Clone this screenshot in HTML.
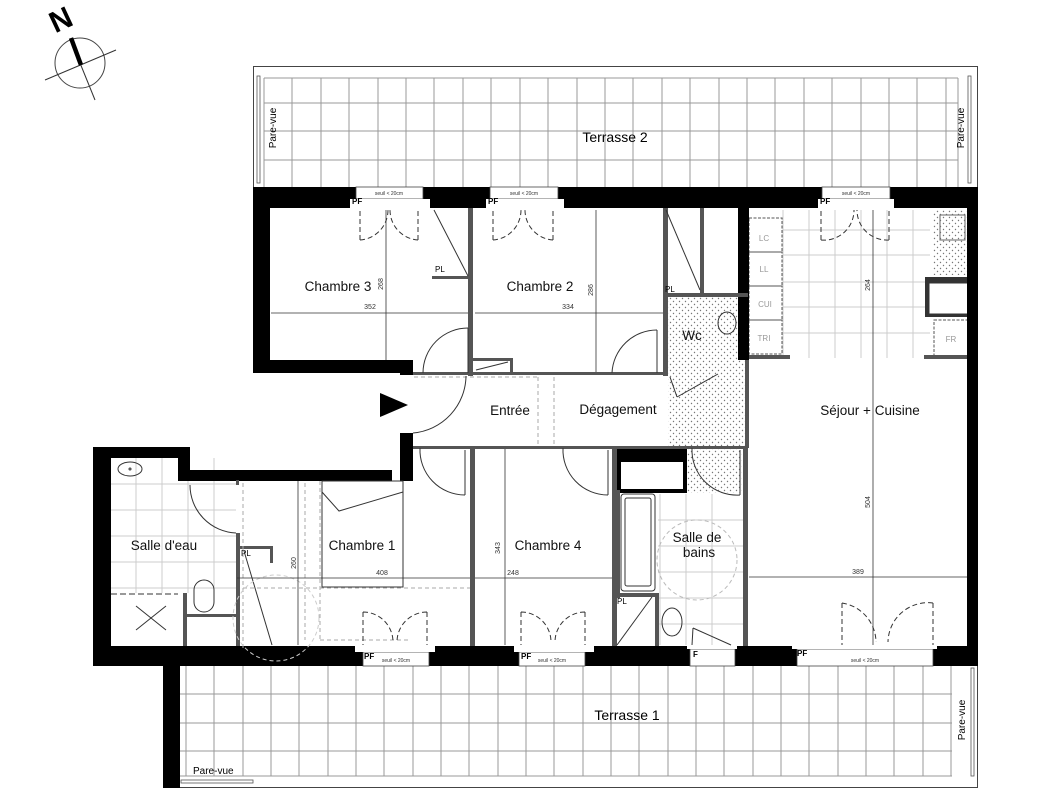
<!DOCTYPE html>
<html><head><meta charset="utf-8"><style>
html,body{margin:0;padding:0;background:#fff;}
svg{display:block;font-family:"Liberation Sans",sans-serif;}
</style></head><body>
<svg width="1052" height="800" viewBox="0 0 1052 800" xmlns="http://www.w3.org/2000/svg">
<defs>
<pattern id="dots" width="6" height="6" patternUnits="userSpaceOnUse"><circle cx="1.5" cy="1.5" r="0.7" fill="#777"/><circle cx="4.5" cy="4.5" r="0.7" fill="#777"/></pattern>
</defs>
<rect width="1052" height="800" fill="#fff"/>

<!-- compass -->
<circle cx="80" cy="63" r="25" fill="none" stroke="#444" stroke-width="1"/>
<line x1="45" y1="80" x2="116" y2="50" stroke="#333" stroke-width="1"/>
<line x1="80" y1="63" x2="95" y2="100" stroke="#333" stroke-width="1"/>
<line x1="71" y1="38" x2="81" y2="65" stroke="#000" stroke-width="4.5"/>
<text x="60" y="30" font-size="30" font-weight="bold" transform="rotate(-25 60 18)" text-anchor="middle">N</text>

<!-- Terrasse 2 -->
<rect x="253.5" y="66.5" width="724" height="122" fill="none" stroke="#444" stroke-width="1"/>
<g stroke="#999" stroke-width="1">
<line x1="264" y1="78" x2="958" y2="78"/><line x1="264" y1="103" x2="958" y2="103"/><line x1="264" y1="131" x2="958" y2="131"/><line x1="264" y1="160" x2="958" y2="160"/>
<line x1="264" y1="78" x2="264" y2="188"/><line x1="292" y1="78" x2="292" y2="188"/><line x1="321" y1="78" x2="321" y2="188"/><line x1="349" y1="78" x2="349" y2="188"/><line x1="378" y1="78" x2="378" y2="188"/><line x1="406" y1="78" x2="406" y2="188"/><line x1="434" y1="78" x2="434" y2="188"/><line x1="463" y1="78" x2="463" y2="188"/><line x1="491" y1="78" x2="491" y2="188"/><line x1="520" y1="78" x2="520" y2="188"/><line x1="548" y1="78" x2="548" y2="188"/><line x1="577" y1="78" x2="577" y2="188"/><line x1="605" y1="78" x2="605" y2="188"/><line x1="633" y1="78" x2="633" y2="188"/><line x1="662" y1="78" x2="662" y2="188"/><line x1="690" y1="78" x2="690" y2="188"/><line x1="719" y1="78" x2="719" y2="188"/><line x1="747" y1="78" x2="747" y2="188"/><line x1="775" y1="78" x2="775" y2="188"/><line x1="804" y1="78" x2="804" y2="188"/><line x1="832" y1="78" x2="832" y2="188"/><line x1="861" y1="78" x2="861" y2="188"/><line x1="889" y1="78" x2="889" y2="188"/><line x1="917" y1="78" x2="917" y2="188"/><line x1="946" y1="78" x2="946" y2="188"/><line x1="958" y1="78" x2="958" y2="188"/>
</g>
<rect x="257" y="76" width="3" height="107" fill="none" stroke="#555" stroke-width="0.8"/>
<rect x="968" y="76" width="3" height="107" fill="none" stroke="#555" stroke-width="0.8"/>
<text x="276" y="128" font-size="10" transform="rotate(-90 276 128)" text-anchor="middle">Pare-vue</text>
<text x="964" y="128" font-size="10" transform="rotate(-90 964 128)" text-anchor="middle">Pare-vue</text>
<text x="615" y="142" font-size="14" text-anchor="middle">Terrasse 2</text>

<!-- Terrasse 1 -->
<rect x="179.5" y="665.5" width="798" height="122" fill="none" stroke="#444" stroke-width="1"/>
<g stroke="#999" stroke-width="1">
<line x1="180" y1="694" x2="952" y2="694"/><line x1="180" y1="723" x2="952" y2="723"/><line x1="180" y1="751" x2="952" y2="751"/><line x1="180" y1="776" x2="952" y2="776"/>
<line x1="186" y1="665" x2="186" y2="776"/><line x1="214" y1="665" x2="214" y2="776"/><line x1="243" y1="665" x2="243" y2="776"/><line x1="271" y1="665" x2="271" y2="776"/><line x1="299" y1="665" x2="299" y2="776"/><line x1="328" y1="665" x2="328" y2="776"/><line x1="356" y1="665" x2="356" y2="776"/><line x1="384" y1="665" x2="384" y2="776"/><line x1="413" y1="665" x2="413" y2="776"/><line x1="441" y1="665" x2="441" y2="776"/><line x1="469" y1="665" x2="469" y2="776"/><line x1="498" y1="665" x2="498" y2="776"/><line x1="526" y1="665" x2="526" y2="776"/><line x1="554" y1="665" x2="554" y2="776"/><line x1="583" y1="665" x2="583" y2="776"/><line x1="611" y1="665" x2="611" y2="776"/><line x1="639" y1="665" x2="639" y2="776"/><line x1="668" y1="665" x2="668" y2="776"/><line x1="696" y1="665" x2="696" y2="776"/><line x1="724" y1="665" x2="724" y2="776"/><line x1="753" y1="665" x2="753" y2="776"/><line x1="781" y1="665" x2="781" y2="776"/><line x1="809" y1="665" x2="809" y2="776"/><line x1="838" y1="665" x2="838" y2="776"/><line x1="866" y1="665" x2="866" y2="776"/><line x1="894" y1="665" x2="894" y2="776"/><line x1="923" y1="665" x2="923" y2="776"/><line x1="951" y1="665" x2="951" y2="776"/>
</g>
<rect x="971" y="668" width="3" height="108" fill="none" stroke="#555" stroke-width="0.8"/>
<rect x="181" y="780" width="72" height="3" fill="none" stroke="#555" stroke-width="0.8"/>
<text x="965" y="720" font-size="10" transform="rotate(-90 965 720)" text-anchor="middle">Pare-vue</text>
<text x="193" y="774" font-size="10">Pare-vue</text>
<text x="627" y="720" font-size="14" text-anchor="middle">Terrasse 1</text>

<!-- dotted floors -->
<rect x="668" y="296" width="78" height="78" fill="url(#dots)"/>
<rect x="668" y="374" width="78" height="74" fill="url(#dots)"/>
<rect x="686" y="448" width="56" height="45" fill="url(#dots)"/>
<rect x="933" y="210" width="34" height="65" fill="url(#dots)"/>

<!-- tiles -->
<g stroke="#ccc" stroke-width="1">
<line x1="783" y1="210" x2="783" y2="358"/><line x1="809" y1="210" x2="809" y2="358"/><line x1="835" y1="210" x2="835" y2="358"/><line x1="861" y1="210" x2="861" y2="358"/><line x1="887" y1="210" x2="887" y2="358"/><line x1="913" y1="210" x2="913" y2="358"/>
<line x1="783" y1="230" x2="930" y2="230"/><line x1="783" y1="255" x2="930" y2="255"/><line x1="783" y1="282" x2="930" y2="282"/><line x1="783" y1="307" x2="930" y2="307"/><line x1="783" y1="333" x2="930" y2="333"/>
<line x1="136" y1="458" x2="136" y2="593"/><line x1="162" y1="458" x2="162" y2="593"/><line x1="188" y1="458" x2="188" y2="593"/><line x1="214" y1="458" x2="214" y2="593"/>
<line x1="111" y1="484" x2="236" y2="484"/><line x1="111" y1="510" x2="236" y2="510"/><line x1="111" y1="536" x2="236" y2="536"/><line x1="111" y1="562" x2="236" y2="562"/><line x1="111" y1="588" x2="236" y2="588"/>
<line x1="660" y1="494" x2="660" y2="645"/><line x1="686" y1="494" x2="686" y2="645"/><line x1="712" y1="494" x2="712" y2="645"/>
<line x1="658" y1="520" x2="743" y2="520"/><line x1="658" y1="546" x2="743" y2="546"/><line x1="658" y1="572" x2="743" y2="572"/><line x1="658" y1="598" x2="743" y2="598"/><line x1="658" y1="624" x2="743" y2="624"/>
</g>

<!-- kitchen units -->
<g stroke="#555" stroke-width="1" stroke-dasharray="3,1.5" fill="none">
<rect x="749" y="218" width="33" height="34"/><rect x="749" y="252" width="33" height="34"/><rect x="749" y="286" width="33" height="34"/><rect x="749" y="320" width="33" height="34"/>
<rect x="934" y="320" width="34" height="36"/>
</g>
<g font-size="8" fill="#999" text-anchor="middle"><text x="764" y="241">LC</text><text x="764" y="272">LL</text><text x="765" y="307">CUI</text><text x="764" y="341">TRI</text><text x="951" y="342">FR</text></g>
<rect x="925" y="277" width="43" height="40" fill="#333"/><rect x="929" y="283" width="39" height="31" fill="#fff" stroke="#333"/>
<rect x="748" y="355" width="42" height="4" fill="#555"/><rect x="924" y="355" width="44" height="4" fill="#555"/>

<!-- BLACK WALLS -->
<g fill="#000">
<rect x="253" y="187" width="724" height="21"/>
<rect x="253" y="187" width="17" height="186"/>
<rect x="253" y="360" width="160" height="13"/>
<rect x="967" y="187" width="11" height="479"/>
<rect x="93" y="646" width="885" height="20"/>
<rect x="163" y="646" width="17" height="142"/>
<rect x="93" y="447" width="18" height="219"/>
<rect x="93" y="447" width="97" height="11"/>
<rect x="178" y="447" width="12" height="33"/>
<rect x="178" y="470" width="214" height="11"/>
<rect x="400" y="433" width="13" height="48"/>
<rect x="400" y="362" width="13" height="13"/>
<rect x="738" y="208" width="11" height="152"/>
<rect x="617" y="448" width="70" height="45"/>
</g>
<rect x="621" y="462" width="62" height="27" fill="#fff"/>
<!-- seuil boxes -->
<g fill="#fff" stroke="#444" stroke-width="0.8">
<rect x="356" y="187" width="67" height="12"/><rect x="490" y="187" width="68" height="12"/><rect x="822" y="187" width="68" height="12"/>
<rect x="363" y="652" width="66" height="14"/><rect x="519" y="652" width="66" height="14"/><rect x="690" y="649" width="45" height="17"/><rect x="797" y="649" width="136" height="17"/>
</g>
<rect x="350" y="199" width="80" height="9" fill="#fff"/><rect x="486" y="199" width="78" height="9" fill="#fff"/><rect x="818" y="199" width="76" height="9" fill="#fff"/>
<rect x="355" y="646" width="80" height="6" fill="#fff"/><rect x="514" y="646" width="80" height="6" fill="#fff"/><rect x="687" y="646" width="50" height="3" fill="#fff"/><rect x="792" y="646" width="145" height="3" fill="#fff"/>
<g font-size="5" text-anchor="middle" fill="#333"><text x="389" y="195">seuil &lt; 20cm</text><text x="524" y="195">seuil &lt; 20cm</text><text x="856" y="195">seuil &lt; 20cm</text><text x="396" y="662">seuil &lt; 20cm</text><text x="552" y="662">seuil &lt; 20cm</text><text x="865" y="662">seuil &lt; 20cm</text></g>
<g font-size="8" font-weight="bold"><text x="352" y="204">PF</text><text x="488" y="204">PF</text><text x="820" y="204">PF</text><text x="364" y="659">PF</text><text x="521" y="659">PF</text><text x="693" y="657">F</text><text x="797" y="656">PF</text></g>

<!-- thin walls -->
<g fill="#555">
<rect x="468" y="208" width="5" height="168"/>
<rect x="432" y="276" width="38" height="3"/>
<rect x="663" y="208" width="5" height="168"/>
<rect x="700" y="208" width="4" height="88"/>
<rect x="663" y="293" width="85" height="4"/>
<rect x="413" y="372" width="55" height="3"/>
<rect x="473" y="372" width="195" height="3"/>
<rect x="473" y="358" width="40" height="3"/><rect x="510" y="358" width="3" height="17"/>
<rect x="413" y="446" width="332" height="3"/>
<rect x="470" y="448" width="5" height="198"/>
<rect x="612" y="448" width="5" height="198"/>
<rect x="743" y="448" width="5" height="198"/>
<rect x="745" y="360" width="4" height="88"/>
<rect x="236" y="533" width="4" height="113"/>
<rect x="236" y="480" width="3" height="5"/>
<rect x="240" y="546" width="32" height="3"/><rect x="270" y="546" width="3" height="17"/>
<rect x="183" y="593" width="4" height="53"/><rect x="187" y="614" width="50" height="3"/>
<rect x="617" y="490" width="3" height="108"/><rect x="617" y="593" width="40" height="4"/><rect x="655" y="593" width="4" height="53"/>
<rect x="612" y="596" width="5" height="50"/>
</g>
<g stroke="#333" stroke-width="1" fill="none">
<line x1="434" y1="210" x2="468" y2="276"/><line x1="666" y1="210" x2="700" y2="290"/>
<line x1="244" y1="551" x2="272" y2="645"/>
<line x1="617" y1="645" x2="652" y2="597"/>
<line x1="476" y1="370" x2="508" y2="362"/>
</g>
<g font-size="8"><text x="435" y="272">PL</text><text x="665" y="292">PL</text><text x="241" y="556">PL</text><text x="617" y="604">PL</text></g>

<!-- sanitary -->
<g stroke="#333" stroke-width="1" fill="none">
<ellipse cx="130" cy="469" rx="12" ry="7"/><circle cx="130" cy="469" r="1"/>
<line x1="111" y1="594" x2="178" y2="594" stroke-dasharray="6,3"/>
<line x1="136" y1="606" x2="166" y2="630"/><line x1="166" y1="606" x2="136" y2="630"/>
<rect x="194" y="580" width="20" height="32" rx="10"/>
<ellipse cx="727" cy="323" rx="9" ry="11"/>
<rect x="621" y="494" width="34" height="97" rx="3"/><rect x="625" y="498" width="26" height="88" rx="2"/>
<ellipse cx="672" cy="622" rx="10" ry="14"/>
<circle cx="697" cy="560" r="40" stroke="#bbb" stroke-dasharray="4,3"/>
<rect x="322" y="481" width="81" height="106" />
<polyline points="322,492 339,511 403,492"/>
<rect x="940" y="215" width="25" height="25" stroke="#666"/>
</g>

<g stroke="#aaa" stroke-width="1" fill="none" stroke-dasharray="4,3">
<line x1="414" y1="377" x2="538" y2="377"/><line x1="538" y1="377" x2="538" y2="446"/><line x1="554" y1="377" x2="554" y2="446"/>
<line x1="243" y1="588" x2="470" y2="588"/><line x1="243" y1="483" x2="243" y2="648"/><line x1="305" y1="483" x2="305" y2="640"/><line x1="320" y1="481" x2="320" y2="640"/><line x1="320" y1="640" x2="408" y2="640"/>
<circle cx="276" cy="618" r="43" stroke="#ccc"/>
</g>

<!-- doors -->
<g stroke="#333" stroke-width="1" fill="none">
<path d="M468 328 A45 45 0 0 0 423 373"/><line x1="468" y1="328" x2="468" y2="373"/>
<path d="M657 330 A45 45 0 0 0 612 373"/><line x1="657" y1="330" x2="657" y2="373"/>
<path d="M413 433 A58 58 0 0 0 466 376"/>
<path d="M420 448 A45 45 0 0 0 465 495"/><line x1="465" y1="450" x2="465" y2="495"/>
<path d="M563 448 A45 45 0 0 0 608 495"/><line x1="608" y1="450" x2="608" y2="495"/>
<path d="M190 485 A48 48 0 0 0 236 533"/>
<path d="M692 448 A45 45 0 0 0 740 495"/><line x1="740" y1="450" x2="740" y2="495"/>
<line x1="670" y1="377" x2="677" y2="397"/><line x1="677" y1="397" x2="718" y2="374"/>
<line x1="693" y1="628" x2="731" y2="645"/><line x1="693" y1="628" x2="692" y2="645"/>
</g>
<g stroke="#333" stroke-width="1" fill="none" stroke-dasharray="5,3">
<path d="M360 240 L360 209 M360 240 A30 30 0 0 0 388 210 M418 240 L418 209 M418 240 A30 30 0 0 1 390 210"/>
<path d="M493 240 L493 209 M493 240 A30 30 0 0 0 521 210 M553 240 L553 209 M553 240 A30 30 0 0 1 525 210"/>
<path d="M821 240 L821 209 M821 240 A30 30 0 0 0 854 210 M889 240 L889 209 M889 240 A30 30 0 0 1 857 210"/>
<path d="M363 612 L363 645 M363 612 A30 30 0 0 1 393 642 M427 612 L427 645 M427 612 A30 30 0 0 0 397 642"/>
<path d="M521 612 L521 645 M521 612 A30 30 0 0 1 551 642 M585 612 L585 645 M585 612 A30 30 0 0 0 555 642"/>
<path d="M842 603 L842 645 M842 603 A40 40 0 0 1 876 642 M933 603 L933 645 M933 603 A40 40 0 0 0 888 642"/>
</g>

<polygon points="380,393 408,405 380,417" fill="#000"/>

<g stroke="#333" stroke-width="0.8">
<line x1="271" y1="313" x2="468" y2="313"/><line x1="475" y1="313" x2="663" y2="313"/>
<line x1="386" y1="210" x2="386" y2="360"/><line x1="596" y1="210" x2="596" y2="372"/>
<line x1="873" y1="210" x2="873" y2="645"/>
<line x1="749" y1="577" x2="967" y2="577"/>
<line x1="237" y1="578" x2="470" y2="578"/><line x1="475" y1="578" x2="612" y2="578"/>
<line x1="505" y1="449" x2="505" y2="645"/><line x1="298" y1="481" x2="298" y2="645"/>
</g>
<g font-size="7" fill="#333" text-anchor="middle">
<text x="370" y="309">352</text><text x="568" y="309">334</text><text x="858" y="574">389</text><text x="382" y="575">408</text><text x="513" y="575">248</text>
<text x="383" y="284" transform="rotate(-90 383 284)">268</text>
<text x="593" y="290" transform="rotate(-90 593 290)">286</text>
<text x="870" y="285" transform="rotate(-90 870 285)">264</text>
<text x="870" y="502" transform="rotate(-90 870 502)">504</text>
<text x="500" y="548" transform="rotate(-90 500 548)">343</text>
<text x="296" y="563" transform="rotate(-90 296 563)">260</text>
</g>

<g font-size="13.5" fill="#111" text-anchor="middle">
<text x="338" y="291">Chambre 3</text>
<text x="540" y="291">Chambre 2</text>
<text x="692" y="340">Wc</text>
<text x="510" y="415">Entrée</text>
<text x="618" y="414">Dégagement</text>
<text x="870" y="415">Séjour + Cuisine</text>
<text x="164" y="550">Salle d'eau</text>
<text x="362" y="550">Chambre 1</text>
<text x="548" y="550">Chambre 4</text>
<text x="697" y="542">Salle de</text>
<text x="699" y="557">bains</text>
</g>
</svg>
</body></html>
